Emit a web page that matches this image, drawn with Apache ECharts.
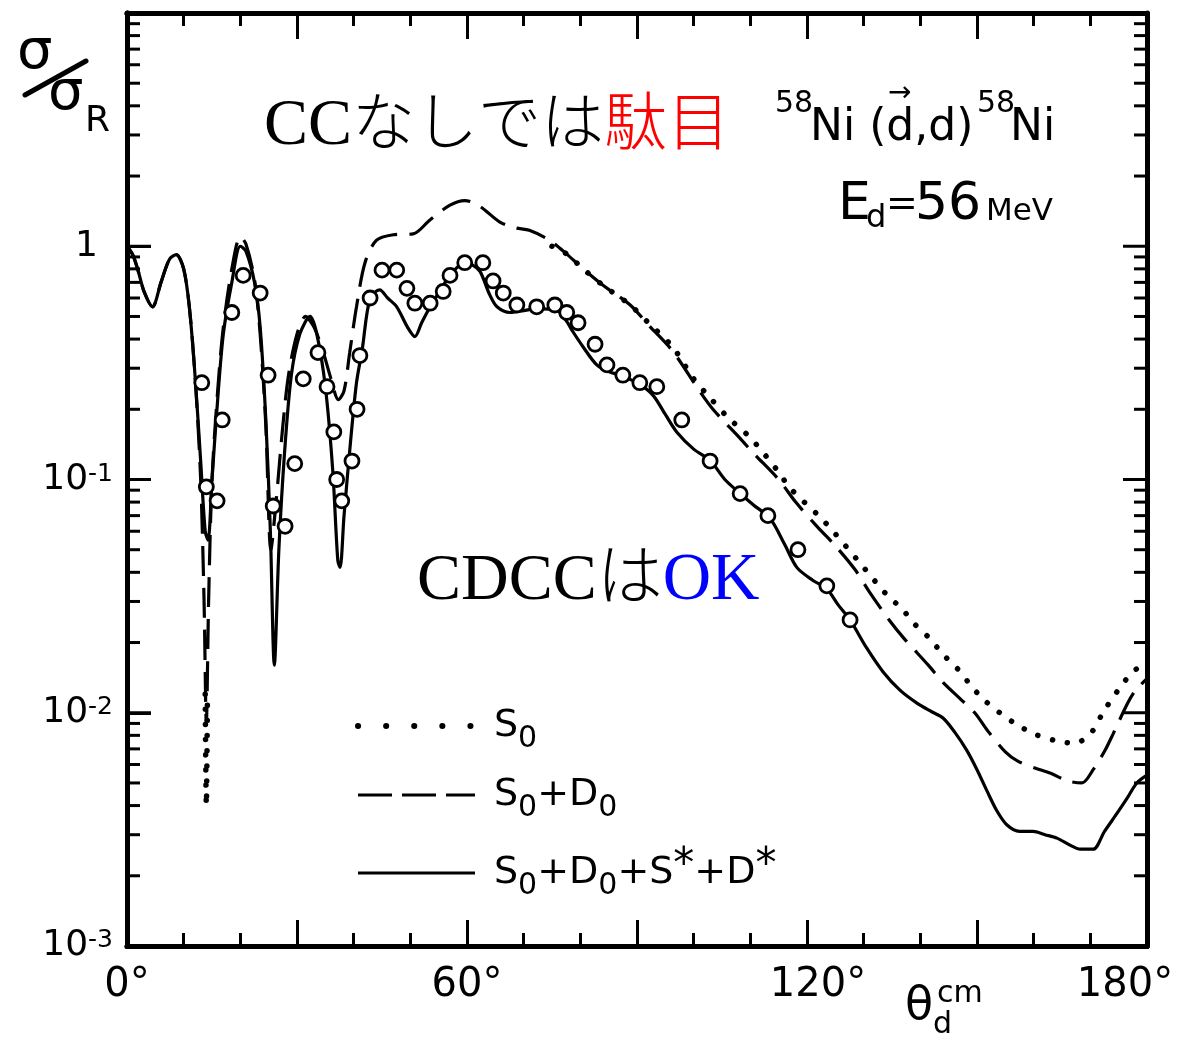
<!DOCTYPE html>
<html>
<head>
<meta charset="utf-8">
<script src="https://cdn.jsdelivr.net/npm/echarts@6/dist/echarts.min.js"></script>
<style>
html,body{margin:0;padding:0;background:#fff;}
#wrap{position:relative;width:1182px;height:1037px;}
#c{position:absolute;left:0;top:0;width:1182px;height:1037px;}
#t{position:absolute;left:0;top:0;width:1182px;height:1037px;pointer-events:none;}
</style>
</head>
<body>
<div id="wrap"><div id="c"></div><div id="t"></div></div>
<script>
// ---- data (angle in degrees, sigma/sigma_R) ----
// S0 is only visible where it separates from S0+D0 ('-' = gap)
const curveS0 = [[13.8,0.012],[14.0,0.004],[14.2,0.012],[40,'-'],[75,1.0],[77.5,0.93],[80.5,0.8],[84,0.68],[88.8,0.56],[92,0.47],[96.3,0.37],[100,0.27],[102.9,0.224],[106,0.185],[110,0.151],[114.7,0.11],[117,0.092],[122.3,0.069],[124.6,0.06],[129.3,0.044],[134.1,0.032],[136.7,0.028],[139,0.024],[141.5,0.021],[144,0.0178],[146.5,0.0155],[148.8,0.0132],[151,0.0115],[154,0.01],[157,0.0089],[160.2,0.0081],[163.8,0.0076],[167.3,0.0074],[170.3,0.0083],[172.2,0.01],[174.7,0.0123],[177.3,0.0148],[180,0.0166]];

const curveS0D0 = [[0,1.0],[1,0.92],[2,0.78],[3,0.64],[4.5,0.55],[6,0.7],[7.5,0.88],[8.7,0.92],[10,0.8],[11,0.55],[12,0.28],[13,0.1],[13.6,0.03],[14.0,0.009],[14.4,0.03],[15,0.1],[16,0.24],[17,0.45],[18.5,0.8],[20,1.1],[21,1.02],[22.5,0.72],[23.5,0.42],[24.5,0.17],[25.4,0.05],[26.3,0.08],[27.5,0.17],[28.5,0.28],[30,0.42],[31.5,0.5],[33,0.45],[34.5,0.36],[36,0.27],[37.3,0.22],[38.3,0.24],[39.3,0.35],[40.5,0.55],[42,0.85],[44,1.06],[47,1.12],[50.5,1.13],[53.5,1.3],[57,1.5],[59.6,1.57],[62,1.5],[65.8,1.27],[68.5,1.2],[71,1.17],[74.6,1.06],[77.5,0.93],[80.5,0.8],[84,0.68],[88.8,0.56],[92,0.46],[96.3,0.355],[101,0.24],[103.4,0.2],[108.2,0.15],[110.5,0.13],[115,0.1],[118,0.08],[122,0.062],[125,0.052],[128.5,0.041],[131,0.033],[134.5,0.025],[137,0.021],[141.4,0.016],[144,0.0135],[147,0.0115],[149.6,0.01],[152,0.0083],[155,0.0068],[157.2,0.0062],[160.2,0.0058],[163,0.0055],[166,0.0051],[168.5,0.005],[170.5,0.0057],[172.6,0.0069],[174,0.0081],[176.6,0.011],[178,0.0125],[180,0.014]];

const curveFull = [[0,1.0],[1,0.92],[2,0.78],[3,0.64],[4.5,0.55],[6,0.7],[7.5,0.88],[8.7,0.92],[10,0.8],[11,0.55],[12,0.28],[13,0.12],[13.8,0.06],[14.3,0.055],[15,0.1],[16,0.22],[17,0.42],[18.5,0.7],[20,1.0],[21,0.95],[22.5,0.7],[23.5,0.45],[24.5,0.18],[25.3,0.06],[26,0.016],[26.8,0.05],[27.8,0.13],[29,0.28],[30.5,0.42],[32.3,0.5],[33.5,0.42],[35,0.25],[36.3,0.11],[37.2,0.045],[37.6,0.042],[38.3,0.07],[39.5,0.15],[40.5,0.26],[41.5,0.36],[42.9,0.6],[44.6,0.65],[46,0.6],[47.6,0.55],[49.5,0.45],[50.8,0.41],[52,0.47],[53.5,0.55],[55.5,0.66],[57,0.75],[59.6,0.85],[61,0.83],[62.3,0.78],[64,0.62],[65.3,0.55],[67.6,0.52],[70,0.53],[72.3,0.54],[75.9,0.53],[77.5,0.48],[78.7,0.43],[80.5,0.37],[82.9,0.31],[85,0.29],[87,0.28],[90,0.26],[92.8,0.23],[95,0.19],[97,0.16],[100,0.135],[103,0.12],[105.5,0.1],[108,0.088],[110.5,0.078],[113.5,0.068],[116,0.053],[118.2,0.042],[121,0.037],[123.5,0.034],[125.5,0.029],[127.6,0.025],[130.5,0.019],[133.4,0.015],[136.4,0.0125],[139.4,0.011],[142,0.0101],[144,0.0095],[146,0.0083],[148.2,0.0069],[150,0.0057],[151.8,0.0046],[153.5,0.0038],[155.3,0.0033],[157.5,0.0031],[159.9,0.0031],[162,0.003],[164.1,0.0029],[166.5,0.0027],[168.2,0.0026],[170.5,0.0026],[172.5,0.0031],[174.7,0.0037],[176.5,0.0043],[178.2,0.005],[180,0.0054]];

const expPoints = [[13.2,0.26],[14,0.093],[15.9,0.081],[16.8,0.18],[18.5,0.52],[20.5,0.75],[23.5,0.63],[24.9,0.28],[25.8,0.077],[27.9,0.063],[29.6,0.117],[31.1,0.27],[33.7,0.35],[35.3,0.25],[36.5,0.16],[37,0.10],[37.9,0.081],[39.7,0.12],[40.6,0.20],[41.1,0.34],[42.9,0.6],[45,0.79],[47.6,0.79],[49.4,0.66],[50.8,0.57],[53.5,0.57],[55.8,0.64],[57,0.75],[59.6,0.85],[62.8,0.85],[64.6,0.71],[66.4,0.63],[68.8,0.56],[72.3,0.55],[75.5,0.56],[77.6,0.52],[79.6,0.47],[82.6,0.38],[84.7,0.31],[87.5,0.28],[90.5,0.26],[93.5,0.25],[97.9,0.18],[102.9,0.12],[108.2,0.087],[113.1,0.07],[118.4,0.05],[123.5,0.035],[127.6,0.025]];

const seriesNames = ['S0', 'S0+D0', 'S0+D0+S*+D*'];
const legendLabels = {
  'S0': '{t|S}{s|0}',
  'S0+D0': '{t|S}{s|0}{t|+D}{s|0}',
  'S0+D0+S*+D*': '{t|S}{s|0}{t|+D}{s|0}{t|+S}{p|*}{t|+D}{p|*}'
};
const xTickLabels = {0: '0°', 60: '60°', 120: '120°', 180: '180°'};
const yTickLabels = {'-3': '{n|10}{e|-3}', '-2': '{n|10}{e|-2}', '-1': '{n|10}{e|-1}', '0': '{n|1}{sp| }'};
const yMajorTicks = [0.001, 0.01, 0.1, 1, 10];
const minorMantissas = [2, 3, 4, 5, 6, 7, 8, 9];
const minorDecades = [0.001, 0.01, 0.1, 1];

// ---- shared layout ----
const FONT = "'DejaVu Sans',sans-serif";
const SERIF = "'Liberation Serif','Noto Sans CJK JP',serif";
const GRID = {left: 127, right: 35, top: 13, bottom: 91};
const axisLineStyle = {color: '#000', width: 5};
const tickStyle = {color: '#000', width: 3};

// ---- main chart: curves, points, labels, legend, annotations ----
const chart = echarts.init(document.getElementById('c'), null, {renderer: 'canvas'});

function xAxisCfg(pos, showLabel) {
  return {
    type: 'value', min: 0, max: 180, interval: 30, position: pos,
    axisLine: {onZero: false, lineStyle: axisLineStyle},
    axisTick: {show: false}, minorTick: {show: false},
    splitLine: {show: false},
    axisLabel: {
      show: showLabel, margin: 20, color: '#000', fontFamily: FONT, fontSize: 40,
      formatter: function (v) {
        const t = xTickLabels[Math.round(v)];
        if (!t) return '';
        if (Math.round(v) === 180) return '{l|' + t + '}';
        if (Math.round(v) === 120) return '{r|' + t + '}';
        return t;
      },
      rich: {
        l: {fontFamily: FONT, fontSize: 40, color: '#000', padding: [0, 44, 0, 0]},
        r: {fontFamily: FONT, fontSize: 40, color: '#000', padding: [0, 0, 0, 22]}
      }
    }
  };
}
function yAxisCfg(pos, showLabel) {
  return {
    type: 'log', logBase: 10, min: 0.001, max: 10, position: pos,
    axisLine: {onZero: false, lineStyle: axisLineStyle},
    axisTick: {show: false},
    splitLine: {show: false},
    axisLabel: {
      show: showLabel, margin: 14, color: '#000', fontFamily: FONT, fontSize: 36,
      formatter: function (v) {
        const e = String(Math.round(Math.log10(v)));
        return yTickLabels[e] || '';
      },
      rich: {
        n: {fontFamily: FONT, fontSize: 36, lineHeight: 36, color: '#000'},
        e: {fontFamily: FONT, fontSize: 25, lineHeight: 9, verticalAlign: 'top', color: '#000'},
        sp: {fontFamily: FONT, fontSize: 24, width: 15, color: '#000'}
      }
    }
  };
}

chart.setOption({
  animation: false,
  backgroundColor: '#fff',
  grid: GRID,
  xAxis: [xAxisCfg('bottom', true), xAxisCfg('top', false)],
  yAxis: [yAxisCfg('left', true), yAxisCfg('right', false)],
  legend: {
    orient: 'vertical', left: 350, top: 702,
    itemWidth: 117, itemHeight: 16, itemGap: 22,
    itemStyle: {opacity: 0},
    formatter: function (name) { return legendLabels[name]; },
    textStyle: {
      fontFamily: FONT, fontSize: 38, color: '#000', padding: [0, 0, 0, 14],
      rich: {
        t: {fontFamily: FONT, fontSize: 38, lineHeight: 56, verticalAlign: 'middle', color: '#000'},
        s: {fontFamily: FONT, fontSize: 30, lineHeight: 40, verticalAlign: 'bottom', color: '#000'},
        p: {fontFamily: FONT, fontSize: 42, lineHeight: 46, verticalAlign: 'top', color: '#000'}
      }
    },
    lineStyle: {width: 3},
    data: [
      {name: seriesNames[0], lineStyle: {width: 6, type: [0.1, 28], cap: 'round', color: '#000'}},
      {name: seriesNames[1], lineStyle: {width: 3, type: [34, 10], color: '#000'}},
      {name: seriesNames[2], lineStyle: {width: 3, type: 'solid', color: '#000'}}
    ]
  },
  series: [
    {
      type: 'line', name: seriesNames[0], data: curveS0, symbol: 'none', smooth: 0.3, connectNulls: false, z: 2,
      lineStyle: {color: '#000', width: 5.5, type: [0.1, 15], cap: 'round'}
    },
    {
      type: 'line', name: seriesNames[1], data: curveS0D0, symbol: 'none', smooth: 0.3, z: 3,
      lineStyle: {color: '#000', width: 3.2, type: [30, 12]}
    },
    {
      type: 'line', name: seriesNames[2], data: curveFull, symbol: 'none', smooth: 0.3, z: 4,
      lineStyle: {color: '#000', width: 3.2, type: 'solid'}
    },
    {
      type: 'scatter', name: 'exp', data: expPoints, symbol: 'circle', symbolSize: 14, z: 5,
      itemStyle: {color: '#fff', borderColor: '#000', borderWidth: 2.8, opacity: 1}
    }
  ],
  graphic: [
    // y axis name sigma/sigma_R
    {type: 'text', left: 17, top: 25, style: {text: 'σ', font: '56px ' + FONT, fill: '#000'}},
    {type: 'line', shape: {x1: 25, y1: 95, x2: 86, y2: 61}, style: {stroke: '#000', lineWidth: 5, lineCap: 'round'}},
    {type: 'text', left: 48, top: 66, style: {text: 'σ', font: '56px ' + FONT, fill: '#000'}},
    {type: 'text', left: 85, top: 104, style: {text: 'R', font: '36px ' + FONT, fill: '#000'}},
    // x axis name theta_d^cm
    {type: 'text', left: 905, top: 984, style: {text: 'θ', font: '46px ' + FONT, fill: '#000'}},
    {type: 'text', left: 933, top: 1010, style: {text: 'd', font: '30px ' + FONT, fill: '#000'}},
    {type: 'text', left: 937, top: 979, style: {text: 'cm', font: '30px ' + FONT, fill: '#000'}},
    // reaction label
    {type: 'text', left: 775, top: 89, style: {text: '58', font: '30px ' + FONT, fill: '#000'}},
    {type: 'text', left: 810, top: 107, style: {text: 'Ni (d,d)', font: '44px ' + FONT, fill: '#000'}},
    {type: 'text', left: 888, top: 80, style: {text: '→', font: '28px ' + FONT, fill: '#000'}},
    {type: 'text', left: 977, top: 89, style: {text: '58', font: '30px ' + FONT, fill: '#000'}},
    {type: 'text', left: 1010, top: 107, style: {text: 'Ni', font: '44px ' + FONT, fill: '#000'}},
    {type: 'text', left: 838, top: 179, style: {text: 'E', font: '52px ' + FONT, fill: '#000'}},
    {type: 'text', left: 866, top: 203, style: {text: 'd', font: '32px ' + FONT, fill: '#000'}},
    {type: 'text', left: 886, top: 186, style: {text: '=', font: '38px ' + FONT, fill: '#000'}},
    {type: 'text', left: 915, top: 179, style: {text: '56', font: '52px ' + FONT, fill: '#000'}},
    {type: 'text', left: 986, top: 196, style: {text: 'MeV', font: '31px ' + FONT, fill: '#000'}},
    // Japanese annotations
    {type: 'text', left: 264, top: 94, style: {
      text: '{k|CC}{j|なしでは}{r|駄目}',
      rich: {
        k: {fontFamily: SERIF, fontSize: 66, fill: '#000'},
        j: {fontFamily: SERIF, fontSize: 63, fontWeight: 300, fill: '#000'},
        r: {fontFamily: SERIF, fontSize: 63, fontWeight: 300, fill: '#ff0000'}
      }
    }},
    {type: 'text', left: 417, top: 548, style: {
      text: '{k|CDCC}{j|は}{b|OK}',
      rich: {
        k: {fontFamily: SERIF, fontSize: 66, fill: '#000'},
        j: {fontFamily: SERIF, fontSize: 66, fontWeight: 300, fill: '#000'},
        b: {fontFamily: SERIF, fontSize: 67, fill: '#0000ff'}
      }
    }}
  ]
});

// ---- overlay chart: the frame ticks (same grid and scales, transparent) ----
const tickItems = [];
yMajorTicks.forEach(v => tickItems.push([90, v, 24]));
minorDecades.forEach(d => minorMantissas.forEach(m => tickItems.push([90, +(m * d).toPrecision(3), 13])));

const ticks = echarts.init(document.getElementById('t'));
function tickX(pos) {
  return {
    type: 'value', min: 0, max: 180, interval: 30, position: pos,
    axisLine: {onZero: false, lineStyle: axisLineStyle},
    axisTick: {inside: true, length: 26, lineStyle: tickStyle},
    minorTick: {show: true, splitNumber: 3, length: 13, lineStyle: tickStyle},
    axisLabel: {show: false}, splitLine: {show: false}
  };
}
ticks.setOption({
  animation: false,
  grid: GRID,
  xAxis: [tickX('bottom'), tickX('top')],
  yAxis: [{
    type: 'log', min: 0.001, max: 10, position: 'left',
    axisLine: {lineStyle: axisLineStyle},
    axisTick: {inside: true, length: 24, lineStyle: tickStyle},
    axisLabel: {show: false}, splitLine: {show: false}
  }],
  series: [{
    type: 'custom', silent: true, clip: false, data: tickItems,
    renderItem: function (params, api) {
      const cs = params.coordSys;
      const y = api.coord([api.value(0), api.value(1)])[1];
      const len = api.value(2);
      return {type: 'group', children: [
        {type: 'line', shape: {x1: cs.x, y1: y, x2: cs.x + len, y2: y}, style: {stroke: '#000', lineWidth: 3}},
        {type: 'line', shape: {x1: cs.x + cs.width - len, y1: y, x2: cs.x + cs.width, y2: y}, style: {stroke: '#000', lineWidth: 3}}
      ]};
    }
  }]
});
</script>
</body>
</html>
